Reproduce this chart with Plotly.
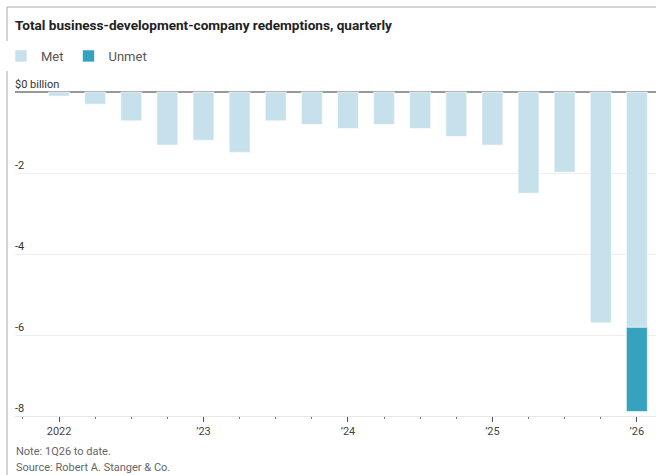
import plotly.graph_objects as go

# ---- data ----
quarters = list(range(17))  # 1Q22 .. 1Q26
met = [-0.1, -0.3, -0.71, -1.31, -1.19, -1.49, -0.71, -0.8, -0.9, -0.8, -0.9,
       -1.1, -1.31, -2.5, -1.98, -5.7, -5.81]
unmet = [None] * 16 + [-2.08]
x_tickvals = [0, 4, 8, 12, 16]
x_ticktext = ["2022", "\u201923", "\u201924", "\u201925", "\u201926"]
y_tickvals = [0, -2, -4, -6, -8]
y_ticktext = ["$0 billion", "-2", "-4", "-6", "-8"]

# ---- layout geometry (pixels) ----
W, H = 656, 475
L, R, T, B = 15, 0, 88, 59
PW, PH = W - L - R, H - T - B


def px_x(px):
    return (px - L) / PW


def px_y(py):
    return (H - B - py) / PH


MET_COLOR = "#c6e1ec"
UNMET_COLOR = "#36a2bd"
FONT = "Roboto, 'Open Sans', sans-serif"

fig = go.Figure()
fig.add_trace(go.Bar(
    x=quarters, y=met, name="Met", width=0.58,
    marker=dict(color=MET_COLOR, line=dict(color="white", width=0.6)),
))
fig.add_trace(go.Bar(
    x=quarters, y=unmet, name="Unmet", width=0.58,
    marker=dict(color=UNMET_COLOR, line=dict(color="white", width=0.6)),
))

annotations = []
for v, t in zip(y_tickvals, y_ticktext):
    annotations.append(dict(
        x=0, xref="paper", y=v, yref="y", text=t, showarrow=False,
        xanchor="left", yanchor="bottom", yshift=-1, xshift=-2,
        font=dict(family=FONT, size=11, color="#333"),
    ))
annotations.append(dict(
    x=px_x(14), xref="paper", y=px_y(451), yref="paper",
    text="Note: 1Q26 to date.", showarrow=False, xanchor="left", yanchor="middle",
    font=dict(family=FONT, size=11, color="#666"),
))
annotations.append(dict(
    x=px_x(14), xref="paper", y=px_y(467), yref="paper",
    text="Source: Robert A. Stanger & Co.", showarrow=False, xanchor="left", yanchor="middle",
    font=dict(family=FONT, size=11, color="#666"),
))

shapes = [
    dict(type="line", xref="paper", yref="paper", x0=px_x(7), x1=px_x(700),
         y0=px_y(7), y1=px_y(7), line=dict(color="#aaa", width=1)),
    dict(type="line", xref="paper", yref="paper", x0=px_x(7), x1=px_x(7),
         y0=px_y(7), y1=px_y(500), line=dict(color="#aaa", width=1)),
]

fig.update_layout(
    width=W, height=H,
    margin=dict(l=L, r=R, t=T, b=B),
    paper_bgcolor="white", plot_bgcolor="white",
    barmode="relative", bargap=0.4,
    font=dict(family=FONT, color="#333"),
    title=dict(
        text="<b>Total business-development-company redemptions, quarterly</b>",
        x=15 / W, xanchor="left", y=1 - 25 / H, yanchor="middle",
        font=dict(family=FONT, size=13.6, color="#222"),
    ),
    showlegend=True,
    legend=dict(
        orientation="h", x=px_x(1), xanchor="left", y=px_y(56), yanchor="middle",
        font=dict(family=FONT, size=13, color="#555"), traceorder="normal",
        itemclick=False, itemdoubleclick=False,
    ),
    xaxis=dict(
        range=[-1.22, 16.53], tickvals=x_tickvals, ticktext=x_ticktext,
        ticks="outside", ticklen=5, tickwidth=1, tickcolor="#555",
        minor=dict(tickmode="linear", tick0=0, dtick=1, ticks="outside",
                   ticklen=2, tickwidth=1, tickcolor="#777"),
        showgrid=False, zeroline=False,
        showline=True, linecolor="#e6e6e6", linewidth=1,
        tickfont=dict(family=FONT, size=11, color="#444"),
        fixedrange=True,
    ),
    yaxis=dict(
        range=[-8, 0.1], tickvals=y_tickvals, showticklabels=False,
        showgrid=True, gridcolor="#efefef", gridwidth=1,
        zeroline=True, zerolinecolor="#999", zerolinewidth=1.5,
        fixedrange=True,
    ),
    annotations=annotations,
    shapes=shapes,
)

fig.write_html(
    "out.html",
    config={"displayModeBar": False},
    post_script="document.body.style.margin='0';document.body.style.overflow='hidden';",
)
